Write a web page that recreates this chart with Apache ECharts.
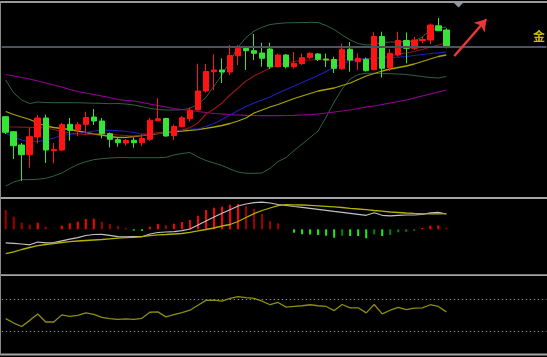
<!DOCTYPE html>
<html>
<head>
<meta charset="utf-8">
<script src="https://cdn.jsdelivr.net/npm/echarts@6/dist/echarts.min.js"></script>
<style>
html,body{margin:0;padding:0;background:#000;}
#c{width:547px;height:357px;}
</style>
</head>
<body>
<div id="c"></div>
<script>
// ---- data ----
const categories = Array.from({length: 68}, (_, i) => String(i + 1));
const open  = [83.3,68.3,55,45.3,63,82,49.3,50,75.7,70, 75.7,83,79,66.3,60.3,57,59.7,57.3,60.7,79.3, 81.5,64.5,73.3,81.3,90,109,128.3,130,128,144.3, 151.7,149.3,147,151,133.3,145,133.3,136.5,142.3,146, 141,140.5,131.3,150.7,138.3,140.7,130.3,163.5,132.3,145, 159.5,151.7,159.5,160,174.2,170];
const close = [67.7,54.3,45.3,63.3,82,50,50.7,75.3,69.7,75.3, 82.5,79,66.3,60.7,57.3,59.5,57.3,61.5,79.8,81.2, 64,73.5,82.2,89.8,109,128.5,130,128,144.5,151.5, 149.3,146.7,141.7,133.3,145,133.3,136.7,142.3,146.7,140.7, 140,131.7,150.7,140,141.7,129.3,163.5,131.7,146.7,159.5, 151.7,160,160.5,175,169.3,152.5];
const low   = [66,41,19,32.3,56.7,37,36.7,49,59.3,64, 66.7,75,61.7,52.5,53.3,54.3,52.3,54,59,79.3, 63.3,60,72.7,78.3,90,107.5,110,117,125,135, 130,140,133.3,131,132.5,131.7,131.5,135,141,139, 133,127,130,128.3,130,128.5,129.7,122.5,129,143.3, 136.7,150,156.7,156,169.3,151.7];
const high  = [84,69,57,72,85,85.5,57,77,82,78, 88.3,91,82,67.5,62.7,61,62.5,66,82.3,102, 82.3,75.5,84,92.7,136.3,136,145.7,141.7,155,155, 153.3,166,157.3,157.3,146.5,146,148,146.5,147.7,147, 146.5,143.3,156.5,158,146.7,142.5,167.7,168.3,151,168.3, 167.5,163,163.3,176.5,182,171.7];
const bollUpper = [120,107,100,96.5,98,97.5,97.3,97.3,97.3,97.3, 97,96.8,96.6,96.3,96.5,96,95,93.5,91.7,90.5, 90,90,90.2,91.7,96,102.5,114,125,139,153, 162.5,169,172.7,175.5,176.5,177.2,177.3,177.4,177.7,177.5, 174.5,170.5,165,160,156.5,155,155.5,157.5,158,158, 158.5,159,163,170,172,173];
const bollMid   = [66.5,63,60,58.5,58.7,59.7,62,64.5,65.5,66.5, 67.5,69,70,69.7,69.3,68.5,67.5,66,66.3,66.7, 67.2,69.5,70,71,71,73.5,76.5,80.5,85,89.5, 93.5,97,100,103,107,110.5,114,117.5,121,124.5, 128.5,132.5,136.5,139,140.5,141.3,141.7,142,142.4,142.8, 143.5,144.5,145.5,146.5,147.2,148.2];
const bollLower = [14,18,20.3,20.5,20.7,21.7,24,27,31.5,35.5, 38.3,40.3,41.3,42,42.4,42.4,42.3,42.3,42.3,42.3, 42.7,45,46.5,47.5,43,39.5,37,34.5,31,28, 26.7,26.7,27,31.7,38.5,42.5,49.5,56,62.5,69, 83,98,111,121,125.5,126.7,126.7,126.5,126.3,126, 125.5,124.5,123.5,122.5,122,123.5];
const maShort = [73,73,72.8,72.7,72.5,72,70.5,68.5,67,66, 65.5,66,66.5,66,65,64.5,64,64.5,66,67.5, 68,69,70,72.5,77,86,91,97,105,112, 119,124,128,132,135,137,138.5,139.5,140,140.5, 140,139.7,140,140,140,140.5,142,142.5,144,146, 147,148.5,150.5,153,155,157];
const maMid = [88.5,85.5,83,80.5,77,74,72.5,71.5,70.5,69, 67.5,66,65,63.5,62.5,62.7,63.5,64.5,65.7,66.5, 67.5,68.3,69,69.7,70.5,71.7,73,74.5,76.5,79, 82,87,90,93,95.5,98.5,101.5,104,106.5,109, 110.5,112,114.5,117,120.5,124,126.5,129,131,132.5, 134,136,138.5,141,143.5,145];
const maLong = [125.5,124,122.5,121,119,117,115,113,110.5,108.5, 107,105.5,104,102.5,100.5,99.7,99,97.5,96,94.5, 93,91.5,90.5,89.5,88.5,87.5,86.5,86,85.3,85, 84.7,84.5,84.3,84.3,84.3,84.5,84.7,85,85.3,86, 87,88,89,90,91.5,93,94,95.5,97,98.5, 100,102,104,106,108,110];
const lastPrice = 153;
const arrowFrom = [56, 144];
const arrowTo = [60, 180.7];
const macdHist = [19.3,12.6,6.6,4.6,6.6,2.6,0.3,3.6,6,7.6, 10.3,10.6,7.6,5.3,3.3,1.6,-1.2,-1.6,2.6,5.3, 4.3,5.6,7.3,9.3,13.6,19.3,21.6,22.6,24.6,25.3, 23.3,20.3,15.3,8.3,6,0.5,-3.4,-5,-5.2,-5.7, -6.4,-8.4,-6.4,-6.7,-6.8,-9,-5,-6.7,-5.7,-3, -2.4,-1.4,1.3,3.6,3.8,1.6];
const macdDif = [-13.5,-14.0,-14.7,-15.5,-12.7,-13.5,-13.2,-11.5,-9.9,-8.3, -6.2,-5.2,-5.0,-6.0,-7.3,-7.5,-7.4,-7.4,-4.7,-3.2, -2.7,-2.3,-1.3,0.3,4.3,8.3,12.3,16.1,19.6,23.3, 25.3,26.7,27.1,26.3,24.8,23.8,22.8,21.9,20.9,19.9, 18.9,17.9,17.0,16.0,15.0,14.0,16.5,14.0,13.5,13.9, 14.3,14.3,14.8,16.5,16.9,15.3];
const macdDea = [-24.4,-22.5,-20.2,-18.2,-16.4,-15.2,-14.2,-13.2,-12.4,-11.7, -11.2,-10.7,-10.2,-9.5,-8.9,-8.3,-8.0,-7.4,-6.4,-5.5, -5.2,-4.7,-4.2,-3.0,-1.5,-0.2,1.3,3.3,4.8,7.8, 11.8,15.6,18.8,21.3,23.7,24.7,24.5,24.3,24.0,23.5, 23.0,22.4,21.8,21.0,20.3,19.6,18.8,18.1,17.3,16.8, 16.3,15.9,15.6,15.5,15.5,15.6];
const rsi = [45.5,39.9,35.5,43.3,51.5,41.2,41.2,50.3,48.5,49.7, 52.8,51.0,47.2,45.5,44.6,45.1,44.6,45.9,53.6,54.1, 47.7,50.6,53.2,56.2,62.6,68.7,69.1,67.8,71.3,73.5, 72.2,71.3,67.8,63.2,66.1,60.1,61.0,61.9,63.2,61.9, 61.0,55.8,63.5,59.3,59.3,52.8,63.5,51.5,56.2,59.7, 57.1,58.8,59.3,63.2,61.0,54.1];
const rsiLevels = [70, 30];
const priceLabel = '金';

// ---- chart ----
const UP = '#ff1414', DOWN = '#36e336';
const candles = open.map((o, i) => [o, close[i], low[i], high[i]]);
const histData = macdHist.map((v, i) => {
  const prev = i > 0 ? macdHist[i - 1] : null;
  let c;
  if (v >= 0) c = (prev !== null && v > prev) ? '#ff0000' : '#a00000';
  else c = (prev !== null && v < prev) ? '#19f019' : '#008a00';
  return { value: v, itemStyle: { color: c } };
});

function lineSeries(data, color, width, xi, yi) {
  return { type: 'line', data, xAxisIndex: xi, yAxisIndex: yi, showSymbol: false, symbol: 'none',
    lineStyle: { color, width }, silent: true, z: 3 };
}

const W = 8.011;
const gridLeft = 1.7;
const gridRight = 547 - gridLeft - W * categories.length;
const chart = echarts.init(document.getElementById('c'), null, { renderer: 'canvas' });
const axisX = (gi) => ({ type: 'category', data: categories, gridIndex: gi, boundaryGap: true, show: false });
chart.setOption({
  backgroundColor: '#000',
  animation: false,
  grid: [
    { left: gridLeft, right: gridRight, top: 4, height: 193 },
    { left: gridLeft, right: gridRight, top: 199, height: 75 },
    { left: gridLeft, right: gridRight, top: 275.85, height: 78.5 }
  ],
  xAxis: [axisX(0), axisX(1), axisX(2)],
  yAxis: [
    { type: 'value', gridIndex: 0, min: 3, max: 196, show: false },
    { type: 'value', gridIndex: 1, min: -44.7, max: 30.3, show: false },
    { type: 'value', gridIndex: 2, min: 0, max: 100, show: false }
  ],
  series: [
    lineSeries(bollUpper, '#2e6344', 1, 0, 0),
    lineSeries(bollLower, '#2e6344', 1, 0, 0),
    lineSeries(maLong, '#940094', 1.2, 0, 0),
    lineSeries(maMid, '#aaa200', 1.3, 0, 0),
    lineSeries(bollMid, '#1e1eb4', 1.2, 0, 0),
    lineSeries(maShort, '#901515', 1.2, 0, 0),
    {
      type: 'candlestick', data: candles, xAxisIndex: 0, yAxisIndex: 0, barWidth: 6, z: 4,
      itemStyle: { color: UP, color0: DOWN, borderColor: UP, borderColor0: DOWN, borderWidth: 1 },
      markLine: {
        silent: true, animation: false, label: { show: false },
        symbol: ['none', 'none'],
        data: [
          { yAxis: lastPrice, lineStyle: { color: '#4c525e', width: 2, type: 'solid' } },
          [
            { coord: arrowFrom, symbol: 'none', lineStyle: { color: '#ee3636', width: 2.5, type: 'solid' } },
            { coord: arrowTo, symbol: 'arrow', symbolSize: 11 }
          ]
        ]
      }
    },
    {
      type: 'bar', data: histData, xAxisIndex: 1, yAxisIndex: 1, barWidth: 2, silent: true
    },
    lineSeries(macdDif, '#c2c2c2', 1.2, 1, 1),
    lineSeries(macdDea, '#b4b000', 1.3, 1, 1),
    Object.assign(lineSeries(rsi, '#8f8d10', 1.3, 2, 2), {
      markLine: {
        silent: true, symbol: ['none', 'none'], label: { show: false },
        lineStyle: { color: '#8a8a8a', type: [1.5, 2.5], width: 1 },
        data: rsiLevels.map(v => ({ yAxis: v }))
      }
    })
  ],
  graphic: [
    { type: 'rect', shape: { x: 0, y: 1, width: 547, height: 2 }, style: { fill: '#9a9a9a' }, z: 50 },
    { type: 'rect', shape: { x: 0, y: 197, width: 547, height: 2 }, style: { fill: '#a6a6a6' }, z: 50 },
    { type: 'rect', shape: { x: 0, y: 274.3, width: 547, height: 1.8 }, style: { fill: '#a6a6a6' }, z: 50 },
    { type: 'rect', shape: { x: 0, y: 353.5, width: 547, height: 2 }, style: { fill: '#a6a6a6' }, z: 50 },
    { type: 'rect', shape: { x: 0, y: 1, width: 1, height: 354 }, style: { fill: '#8a8a8a' }, z: 50 },
    { type: 'polygon', shape: { points: [[454, 3], [463, 3], [458.5, 7.5]] }, style: { fill: '#8b99a8' }, z: 50 },
    { type: 'text', left: 533, top: 30, z: 50,
      style: { text: priceLabel, fill: '#cdbb00', font: 'bold 12px "Noto Sans CJK SC"' } }
  ]
});
</script>
</body>
</html>
